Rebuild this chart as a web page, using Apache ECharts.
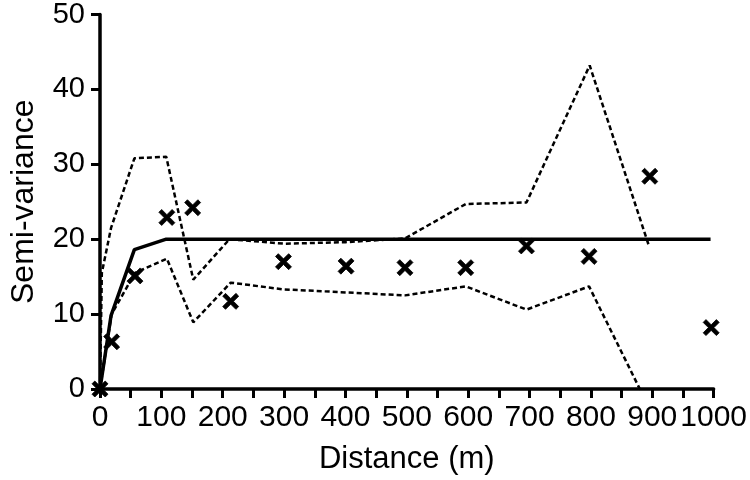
<!DOCTYPE html>
<html>
<head>
<meta charset="utf-8">
<script src="https://cdn.jsdelivr.net/npm/echarts@6/dist/echarts.min.js"></script>
<style>
  html, body { margin: 0; padding: 0; background: #fff; }
  #chart { width: 750px; height: 480px; }
</style>
</head>
<body>
<div id="chart"></div>
<script>
// observed semi-variance (x = distance, y = semi-variance)
var obsX = [0, 19, 57, 109, 151, 213, 299, 401, 497, 596, 695, 797, 896, 996];
var obsY = [0, 6.3, 15.1, 22.9, 24.2, 11.7, 17.0, 16.4, 16.2, 16.2, 19.1, 17.7, 28.4, 8.2];

// fitted model
var modelX = [0, 18, 56, 108, 995];
var modelY = [0, 9.8, 18.6, 20.0, 20.0];

// envelopes
var upperX = [0, 3, 18, 56, 108, 152, 211, 300, 400, 497, 596, 695, 798, 895];
var upperY = [0, 15.5, 21.5, 30.8, 31.0, 14.6, 20.0, 19.4, 19.6, 20.1, 24.7, 24.9, 43.2, 19.0];
var lowerX = [0, 19, 57, 109, 152, 213, 299, 400, 497, 596, 695, 797, 896];
var lowerY = [0, 10.0, 15.5, 17.4, 8.9, 14.2, 13.3, 12.9, 12.5, 13.7, 10.6, 13.7, -2.7];

function pairs(xs, ys) {
    return xs.map(function (x, i) { return [x, ys[i]]; });
}

var chart = echarts.init(document.getElementById('chart'));
var crossPath = 'path://M0,3.5 L3.5,0 L10,6.5 L16.5,0 L20,3.5 L13.5,10 L20,16.5 L16.5,20 L10,13.5 L3.5,20 L0,16.5 L6.5,10 Z';
var font = 'Liberation Sans, Arial, sans-serif';

var option = {
    animation: false,
    grid: { left: 89, right: 33, top: 13, bottom: 90 },
    xAxis: {
        type: 'value',
        min: 0,
        max: 1000,
        interval: 50,
        name: 'Distance (m)',
        nameLocation: 'middle',
        nameGap: 55,
        nameTextStyle: { color: '#000', fontSize: 31, fontFamily: font },
        axisLine: { lineStyle: { color: '#000', width: 3.5 } },
        axisTick: { length: 9, lineStyle: { color: '#000', width: 3 } },
        axisLabel: {
            color: '#000',
            fontSize: 30,
            margin: 14,
            fontFamily: font,
            formatter: function (v) { return v % 100 === 0 ? String(v) : ''; }
        },
        splitLine: { show: false }
    },
    yAxis: {
        type: 'value',
        min: 0,
        max: 50,
        interval: 10,
        name: 'Semi-variance',
        nameLocation: 'middle',
        nameGap: 60,
        nameTextStyle: { color: '#000', fontSize: 32, fontFamily: font },
        axisLine: { show: true, lineStyle: { color: '#000', width: 3.5 } },
        axisTick: { show: true, length: 9, lineStyle: { color: '#000', width: 3 } },
        axisLabel: { color: '#000', fontSize: 29, margin: 15, fontFamily: font },
        splitLine: { show: false }
    },
    series: [
        {
            name: 'upper',
            type: 'line',
            data: pairs(upperX, upperY),
            symbol: 'none',
            lineStyle: { color: '#000', width: 2.5, type: [5, 3] }
        },
        {
            name: 'lower',
            type: 'line',
            data: pairs(lowerX, lowerY),
            symbol: 'none',
            clip: true,
            lineStyle: { color: '#000', width: 2.5, type: [5, 3] }
        },
        {
            name: 'model',
            type: 'line',
            data: pairs(modelX, modelY),
            symbol: 'none',
            lineStyle: { color: '#000', width: 3.5 }
        },
        {
            name: 'observed',
            type: 'scatter',
            data: pairs(obsX, obsY),
            symbol: crossPath,
            symbolSize: 16,
            clip: false,
            itemStyle: { color: '#000', opacity: 1, borderColor: '#000', borderWidth: 0.8 }
        }
    ]
};

chart.setOption(option);
</script>
</body>
</html>
